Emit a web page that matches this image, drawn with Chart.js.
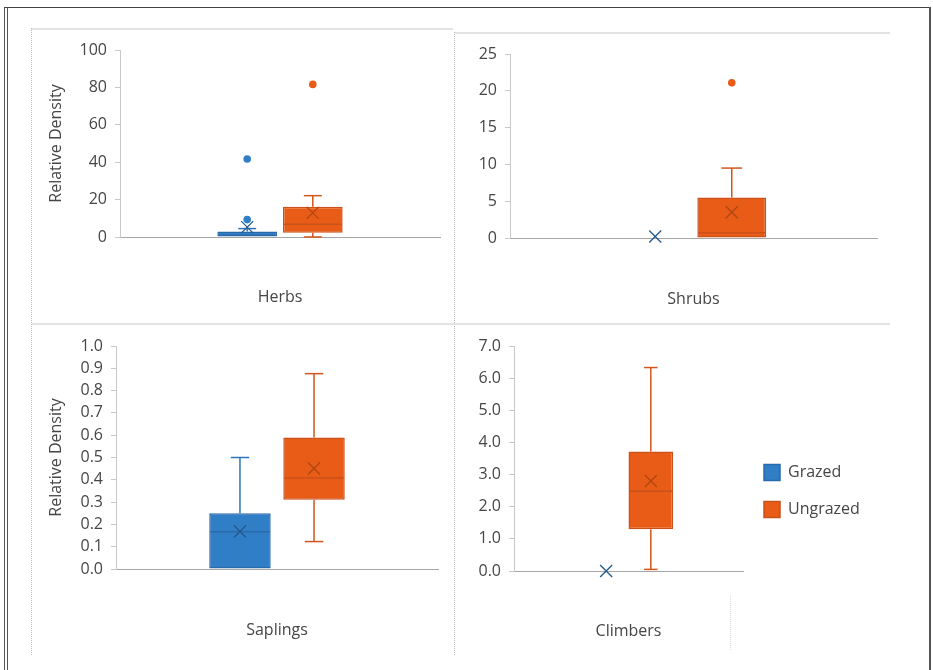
<!DOCTYPE html>
<html>
<head>
<meta charset="utf-8">
<script src="https://cdn.jsdelivr.net/npm/chart.js@4.4.1/dist/chart.umd.min.js"></script>
<style>
  html, body { margin: 0; padding: 0; background: #fff; }
  #page { position: relative; width: 933px; height: 670px; overflow: hidden; background: #fff; }
  .ln { position: absolute; }
  canvas { position: absolute; }
</style>
</head>
<body>
<div id="page">
  <!-- outer frame -->
  <div class="ln" style="left:4px;top:7px;width:1px;height:663px;background:#555"></div>
  <div class="ln" style="left:7px;top:7px;width:1px;height:663px;background:#555"></div>
  <div class="ln" style="left:4px;top:7px;width:927px;height:1px;background:#444"></div>
  <div class="ln" style="left:929px;top:7px;width:2px;height:663px;background:#555"></div>
  <!-- panel frames -->
  <div class="ln" style="left:31px;top:28px;width:422px;height:2px;background:#e3e3e3"></div>
  <div class="ln" style="left:31px;top:28px;width:0;height:627px;border-left:1px dotted #bbb"></div>
  <div class="ln" style="left:455px;top:32px;width:435px;height:2px;background:#e3e3e3"></div>
  <div class="ln" style="left:454px;top:32px;width:0;height:623px;border-left:1px dotted #bbb"></div>
  <div class="ln" style="left:32px;top:323px;width:858px;height:2px;background:#e3e3e3"></div>
  <div class="ln" style="left:730px;top:595px;width:0;height:55px;border-left:1px dotted #ddd"></div>

  <canvas id="c0"></canvas>
  <canvas id="c1"></canvas>
  <canvas id="c2"></canvas>
  <canvas id="c3"></canvas>
</div>
<script>
const categories = ['Herbs', 'Shrubs', 'Saplings', 'Climbers'];
const seriesNames = ['Grazed', 'Ungrazed'];

const grazedMin = [0, 0, 0, 0];
const grazedQ1 = [0, 0, 0, 0];
const grazedMedian = [1, 0, 0.167, 0];
const grazedQ3 = [3, 0, 0.25, 0];
const grazedMax = [4.5, 0, 0.5, 0];
const grazedMean = [5.3, 0.2, 0.168, 0];
const grazedOutliers = [[9.3, 41.7], [], [], []];

const ungrazedMin = [0, 0, 0.123, 0.05];
const ungrazedQ1 = [2.3, 0, 0.311, 1.3];
const ungrazedMedian = [6.8, 0.7, 0.408, 2.48];
const ungrazedQ3 = [16.2, 5.5, 0.59, 3.72];
const ungrazedMax = [22.1, 9.5, 0.876, 6.33];
const ungrazedMean = [12.9, 3.5, 0.451, 2.8];
const ungrazedOutliers = [[81.6], [21.1], [], []];

const yMax = [100, 25, 1, 7];
const yStep = [20, 5, 0.1, 1];
const yDecimals = [0, 0, 1, 1];
const yTitles = ['Relative Density', '', 'Relative Density', ''];

// look
const fills = ['#2f7ec6', '#e95c17'];
const borders = ['#2a6aa9', '#c9511a'];
const whiskerColors = ['#2f74b8', '#d2561b'];
const meanColors = ['#23598c', '#b04612'];
const textColor = '#464646';
const font = { family: "'Open Sans', sans-serif", size: 16 };

// page placement of each panel: canvas box and wanted plot area
const panels = [
  { canvas: [32, 30, 421, 292], area: [120, 50, 440, 237], labelY: 298, cat: 0.41, bar: 0.91, padBottom: 4 },
  { canvas: [456, 34, 434, 288], area: [510, 54, 877, 238], labelY: 300, cat: 0.417, bar: 0.9, padBottom: 4 },
  { canvas: [32, 326, 421, 330], area: [116, 346, 438, 569], labelY: 631, cat: 0.46, bar: 0.83, padBottom: 4 },
  { canvas: [456, 326, 434, 330], area: [514, 346, 743, 571], labelY: 632, cat: 0.39, bar: 1.0, padBottom: 20, legend: true }
];

function stats(i, s) {
  if (s === 0) return { min: grazedMin[i], q1: grazedQ1[i], med: grazedMedian[i], q3: grazedQ3[i], max: grazedMax[i], mean: grazedMean[i], out: grazedOutliers[i] };
  return { min: ungrazedMin[i], q1: ungrazedQ1[i], med: ungrazedMedian[i], q3: ungrazedQ3[i], max: ungrazedMax[i], mean: ungrazedMean[i], out: ungrazedOutliers[i] };
}

// whiskers, median, mean cross and outliers on top of the floating bars
const boxWhiskers = {
  id: 'boxWhiskers',
  afterDatasetsDraw(chart, args, opts) {
    const ctx = chart.ctx;
    const ys = chart.scales.y;
    const py = v => ys.getPixelForValue(v);
    const seg = (x1, y1, x2, y2) => { ctx.beginPath(); ctx.moveTo(x1, y1); ctx.lineTo(x2, y2); ctx.stroke(); };
    opts.stats.forEach((st, di) => {
      const bar = chart.getDatasetMeta(di).data[0];
      if (!bar) return;
      const x = bar.x, w = bar.width, cap = w * 0.15;
      ctx.save();
      ctx.strokeStyle = whiskerColors[di];
      ctx.lineWidth = 1.5;
      if (st.max > st.q3) { seg(x, py(st.q3), x, py(st.max)); seg(x - cap, py(st.max), x + cap, py(st.max)); }
      if (st.min < st.q1) { seg(x, py(st.q1), x, py(st.min)); seg(x - cap, py(st.min), x + cap, py(st.min)); }
      if (st.q3 > st.q1) { ctx.strokeStyle = borders[di]; seg(x - w / 2 + 1, py(st.med), x + w / 2 - 1, py(st.med)); }
      ctx.strokeStyle = meanColors[di];
      ctx.lineWidth = 1.3;
      const my = py(st.mean), m = 6;
      seg(x - m, my - m, x + m, my + m);
      seg(x - m, my + m, x + m, my - m);
      ctx.fillStyle = fills[di];
      st.out.forEach(v => { ctx.beginPath(); ctx.arc(x, py(v), 3.8, 0, Math.PI * 2); ctx.fill(); });
      ctx.restore();
    });
  }
};

panels.forEach((p, i) => {
  const [cx, cy, W, H] = p.canvas;
  const cv = document.getElementById('c' + i);
  cv.width = W; cv.height = H;
  cv.style.left = cx + 'px'; cv.style.top = cy + 'px';

  const l = p.area[0] - cx, t = p.area[1] - cy, r = p.area[2] - cx, b = p.area[3] - cy;
  const padLeft = yTitles[i] ? 15 : 5;
  const yWidth = l - padLeft;
  const xHeight = H - b - p.padBottom;
  const labelPad = (p.labelY - cy) - b - 10;

  const chart = new Chart(cv, {
    type: 'bar',
    data: {
      labels: [categories[i]],
      datasets: seriesNames.map((name, s) => {
        const st = stats(i, s);
        return {
          label: name,
          data: [[st.q1, st.q3]],
          backgroundColor: fills[s],
          borderColor: borders[s],
          borderWidth: 1.5,
          borderSkipped: false,
          categoryPercentage: p.cat,
          barPercentage: p.bar
        };
      })
    },
    options: {
      responsive: false,
      animation: false,
      layout: { padding: { left: padLeft, top: t, right: p.legend ? 0 : W - r, bottom: p.padBottom } },
      plugins: {
        legend: {
          display: !!p.legend,
          position: 'right',
          maxWidth: 220,
          labels: { boxWidth: 16, boxHeight: 16, padding: 21, color: textColor, font }
        },
        tooltip: { enabled: false },
        boxWhiskers: { stats: [stats(i, 0), stats(i, 1)] }
      },
      scales: {
        x: {
          grid: { display: true, drawOnChartArea: false, drawTicks: false },
          border: { color: '#a6a6a6', dash: [2, 2] },
          ticks: { padding: labelPad, color: textColor, font },
          afterFit: s => { s.height = xHeight; }
        },
        y: {
          min: 0,
          max: yMax[i],
          ticks: {
            stepSize: yStep[i],
            padding: 8,
            color: textColor,
            font,
            callback: v => Number(v).toFixed(yDecimals[i])
          },
          grid: { drawOnChartArea: false, tickLength: 5, color: '#c8c8c8' },
          border: { color: '#c8c8c8', dash: [2, 2] },
          title: { display: !!yTitles[i], text: yTitles[i], padding: 0, color: textColor, font },
          afterFit: s => { s.width = yWidth; }
        }
      }
    },
    plugins: [boxWhiskers]
  });

  // legend sits right of the plot area: keep the plot's right edge where the reference has it
  if (p.legend) {
    chart.options.layout.padding.right = Math.max(0, W - r - chart.legend.width);
    chart.update();
  }
});
</script>
</body>
</html>
